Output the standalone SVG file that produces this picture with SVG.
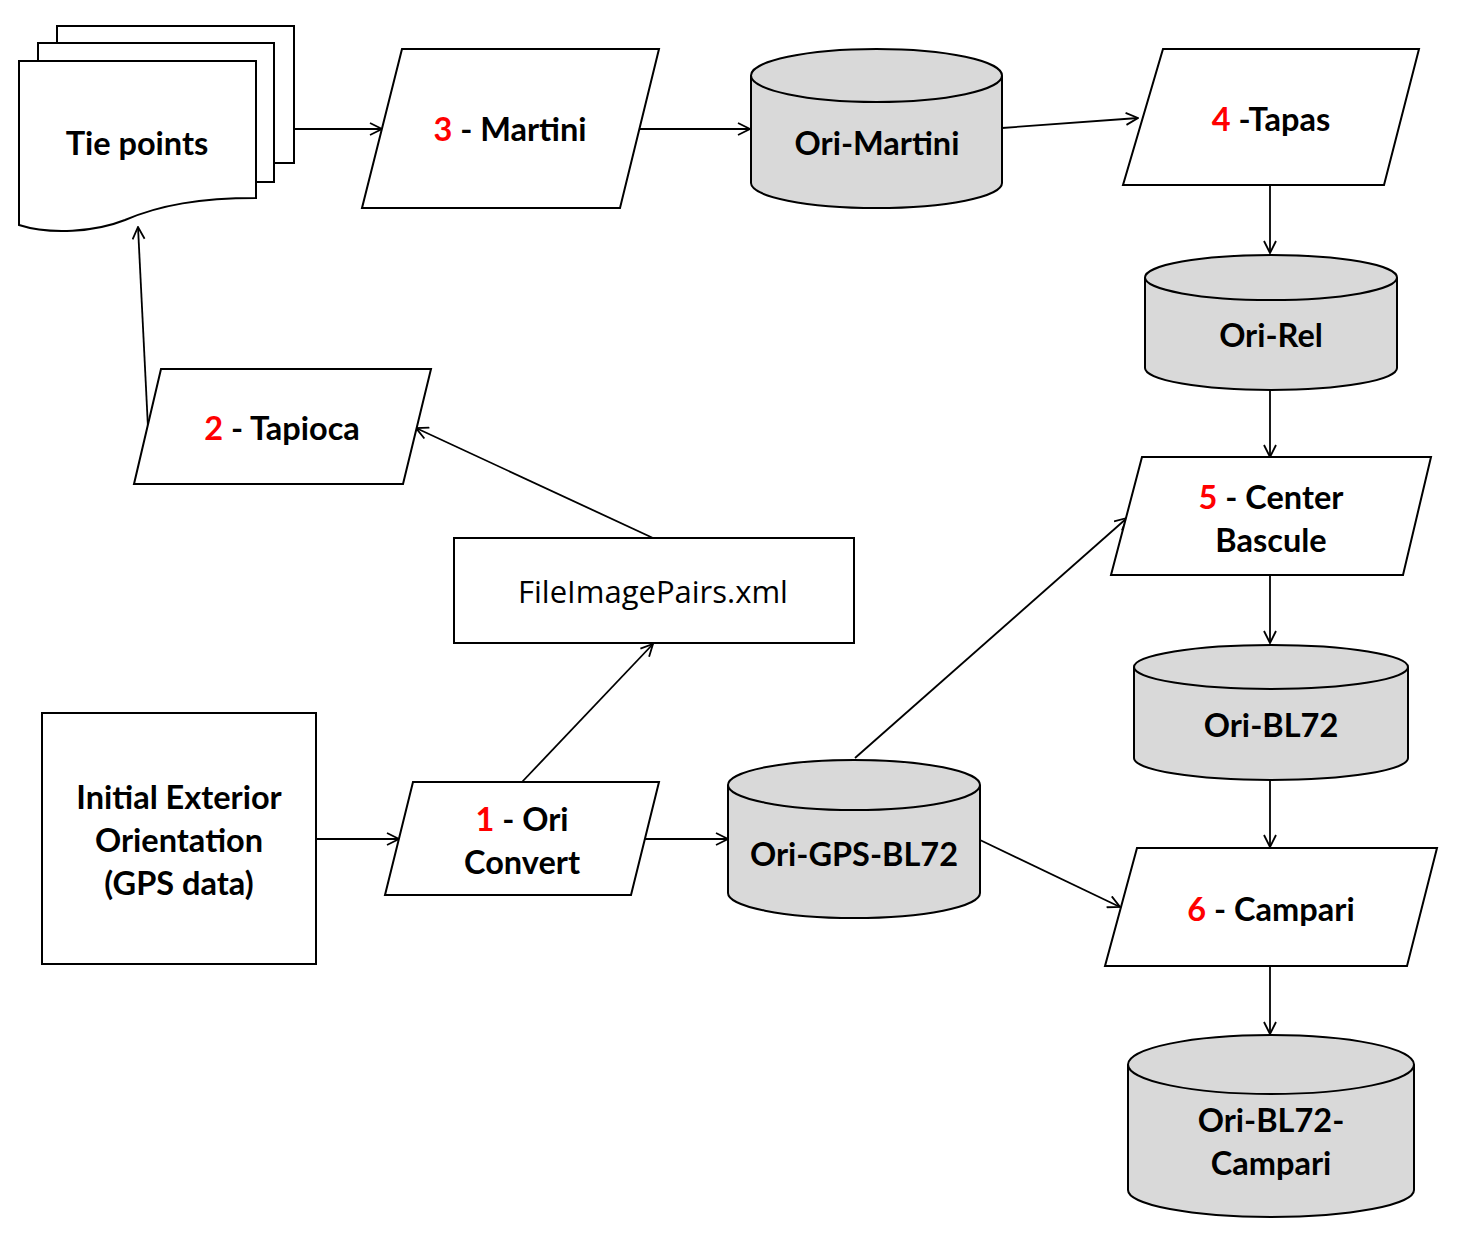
<svg xmlns="http://www.w3.org/2000/svg" width="1472" height="1256" viewBox="0 0 1472 1256">
<style>
.s{fill:#fff;stroke:#000;stroke-width:2}
.c{fill:#d9d9d9;stroke:#000;stroke-width:2}
.t{font-family:Lato,"Open Sans","Liberation Sans",sans-serif;font-weight:bold;font-size:32.5px;fill:#000;text-anchor:middle}
.r{fill:#ff0000}
.n{font-family:"Open Sans","Liberation Sans",sans-serif;font-weight:normal;font-size:31px;fill:#000;text-anchor:middle}
.e{fill:none;stroke:#000;stroke-width:1.8}
</style>
<defs>
<marker id="a" viewBox="0 0 14 14" refX="13" refY="7" markerWidth="14" markerHeight="14" markerUnits="userSpaceOnUse" orient="auto">
<path d="M1,1 L13,7 L1,13" fill="none" stroke="#000" stroke-width="1.8"/>
</marker>
</defs>
<rect width="1472" height="1256" fill="#fff"/>
<g id="connectors">
<line class="e" x1="294" y1="129" x2="382" y2="129" marker-end="url(#a)"/>
<line class="e" x1="639" y1="129" x2="750" y2="129" marker-end="url(#a)"/>
<line class="e" x1="1002" y1="128" x2="1138" y2="118" marker-end="url(#a)"/>
<line class="e" x1="1270" y1="185" x2="1270" y2="253" marker-end="url(#a)"/>
<line class="e" x1="1270" y1="390" x2="1270" y2="457" marker-end="url(#a)"/>
<line class="e" x1="1270" y1="575" x2="1270" y2="643" marker-end="url(#a)"/>
<line class="e" x1="1270" y1="780" x2="1270" y2="847" marker-end="url(#a)"/>
<line class="e" x1="1270" y1="966" x2="1270" y2="1034" marker-end="url(#a)"/>
<line class="e" x1="316" y1="839" x2="399" y2="839" marker-end="url(#a)"/>
<line class="e" x1="645" y1="839" x2="728" y2="839" marker-end="url(#a)"/>
<line class="e" x1="855" y1="758" x2="1127" y2="518" marker-end="url(#a)"/>
<line class="e" x1="980" y1="840" x2="1120" y2="907" marker-end="url(#a)"/>
<line class="e" x1="522" y1="782" x2="653" y2="644" marker-end="url(#a)"/>
<line class="e" x1="653" y1="538" x2="416" y2="428" marker-end="url(#a)"/>
<line class="e" x1="148" y1="428" x2="138" y2="227" marker-end="url(#a)"/>
</g>
<g id="tiepoints">
<rect class="s" x="57" y="26" width="237" height="137"/>
<rect class="s" x="38" y="43" width="236" height="139"/>
<path class="s" d="M19,61 L256,61 L256,198 C200,198 160,205 125,220 C95,232 50,235 19,225 Z"/>
<text class="t" x="137" y="155">Tie points</text>
</g>
<g id="martini">
<polygon class="s" points="402,49 659,49 620,208 362,208"/>
<text class="t" x="510" y="141"><tspan class="r">3</tspan> - Martini</text>
</g>
<g id="orimartini">
<path class="c" d="M751,75.5 L751,183 A125.5,25 0 0 0 1002,183 L1002,75.5"/>
<ellipse class="c" cx="876.5" cy="75.5" rx="125.5" ry="26.5"/>
<text class="t" x="877" y="155">Ori-Martini</text>
</g>
<g id="tapas">
<polygon class="s" points="1163,49 1419,49 1384,185 1123,185"/>
<text class="t" x="1271" y="131"><tspan class="r">4</tspan> -Tapas</text>
</g>
<g id="orirel">
<path class="c" d="M1145,277.5 L1145,368 A126,22 0 0 0 1397,368 L1397,277.5"/>
<ellipse class="c" cx="1271" cy="277.5" rx="126" ry="22.5"/>
<text class="t" x="1271" y="347">Ori-Rel</text>
</g>
<g id="centerbascule">
<polygon class="s" points="1142,457 1431,457 1403,575 1111,575"/>
<text class="t" x="1271" y="509"><tspan class="r">5</tspan> - Center</text>
<text class="t" x="1271" y="552">Bascule</text>
</g>
<g id="oribl72">
<path class="c" d="M1134,667 L1134,758 A137,22 0 0 0 1408,758 L1408,667"/>
<ellipse class="c" cx="1271" cy="667" rx="137" ry="22"/>
<text class="t" x="1271" y="737">Ori-BL72</text>
</g>
<g id="campari">
<polygon class="s" points="1137,848 1437,848 1407,966 1105,966"/>
<text class="t" x="1271" y="921"><tspan class="r">6</tspan> - Campari</text>
</g>
<g id="oribl72campari">
<path class="c" d="M1128,1064.5 L1128,1190 A143,27 0 0 0 1414,1190 L1414,1064.5"/>
<ellipse class="c" cx="1271" cy="1064.5" rx="143" ry="29.5"/>
<text class="t" x="1271" y="1132">Ori-BL72-</text>
<text class="t" x="1271" y="1175">Campari</text>
</g>
<g id="initial">
<rect class="s" x="42" y="713" width="274" height="251"/>
<text class="t" x="179" y="809">Initial Exterior</text>
<text class="t" x="179" y="852">Orientation</text>
<text class="t" x="179" y="895">(GPS data)</text>
</g>
<g id="oriconvert">
<polygon class="s" points="413,782 659,782 631,895 385,895"/>
<text class="t" x="522" y="831"><tspan class="r">1</tspan> - Ori</text>
<text class="t" x="522" y="874">Convert</text>
</g>
<g id="origpsbl72">
<path class="c" d="M728,785 L728,893 A126,25 0 0 0 980,893 L980,785"/>
<ellipse class="c" cx="854" cy="785" rx="126" ry="25"/>
<text class="t" x="854" y="866">Ori-GPS-BL72</text>
</g>
<g id="fileimagepairs">
<rect class="s" x="454" y="538" width="400" height="105"/>
<text class="n" x="653" y="603">FileImagePairs.xml</text>
</g>
<g id="tapioca">
<polygon class="s" points="161,369 431,369 403,484 134,484"/>
<text class="t" x="282" y="440"><tspan class="r">2</tspan> - Tapioca</text>
</g>
</svg>
